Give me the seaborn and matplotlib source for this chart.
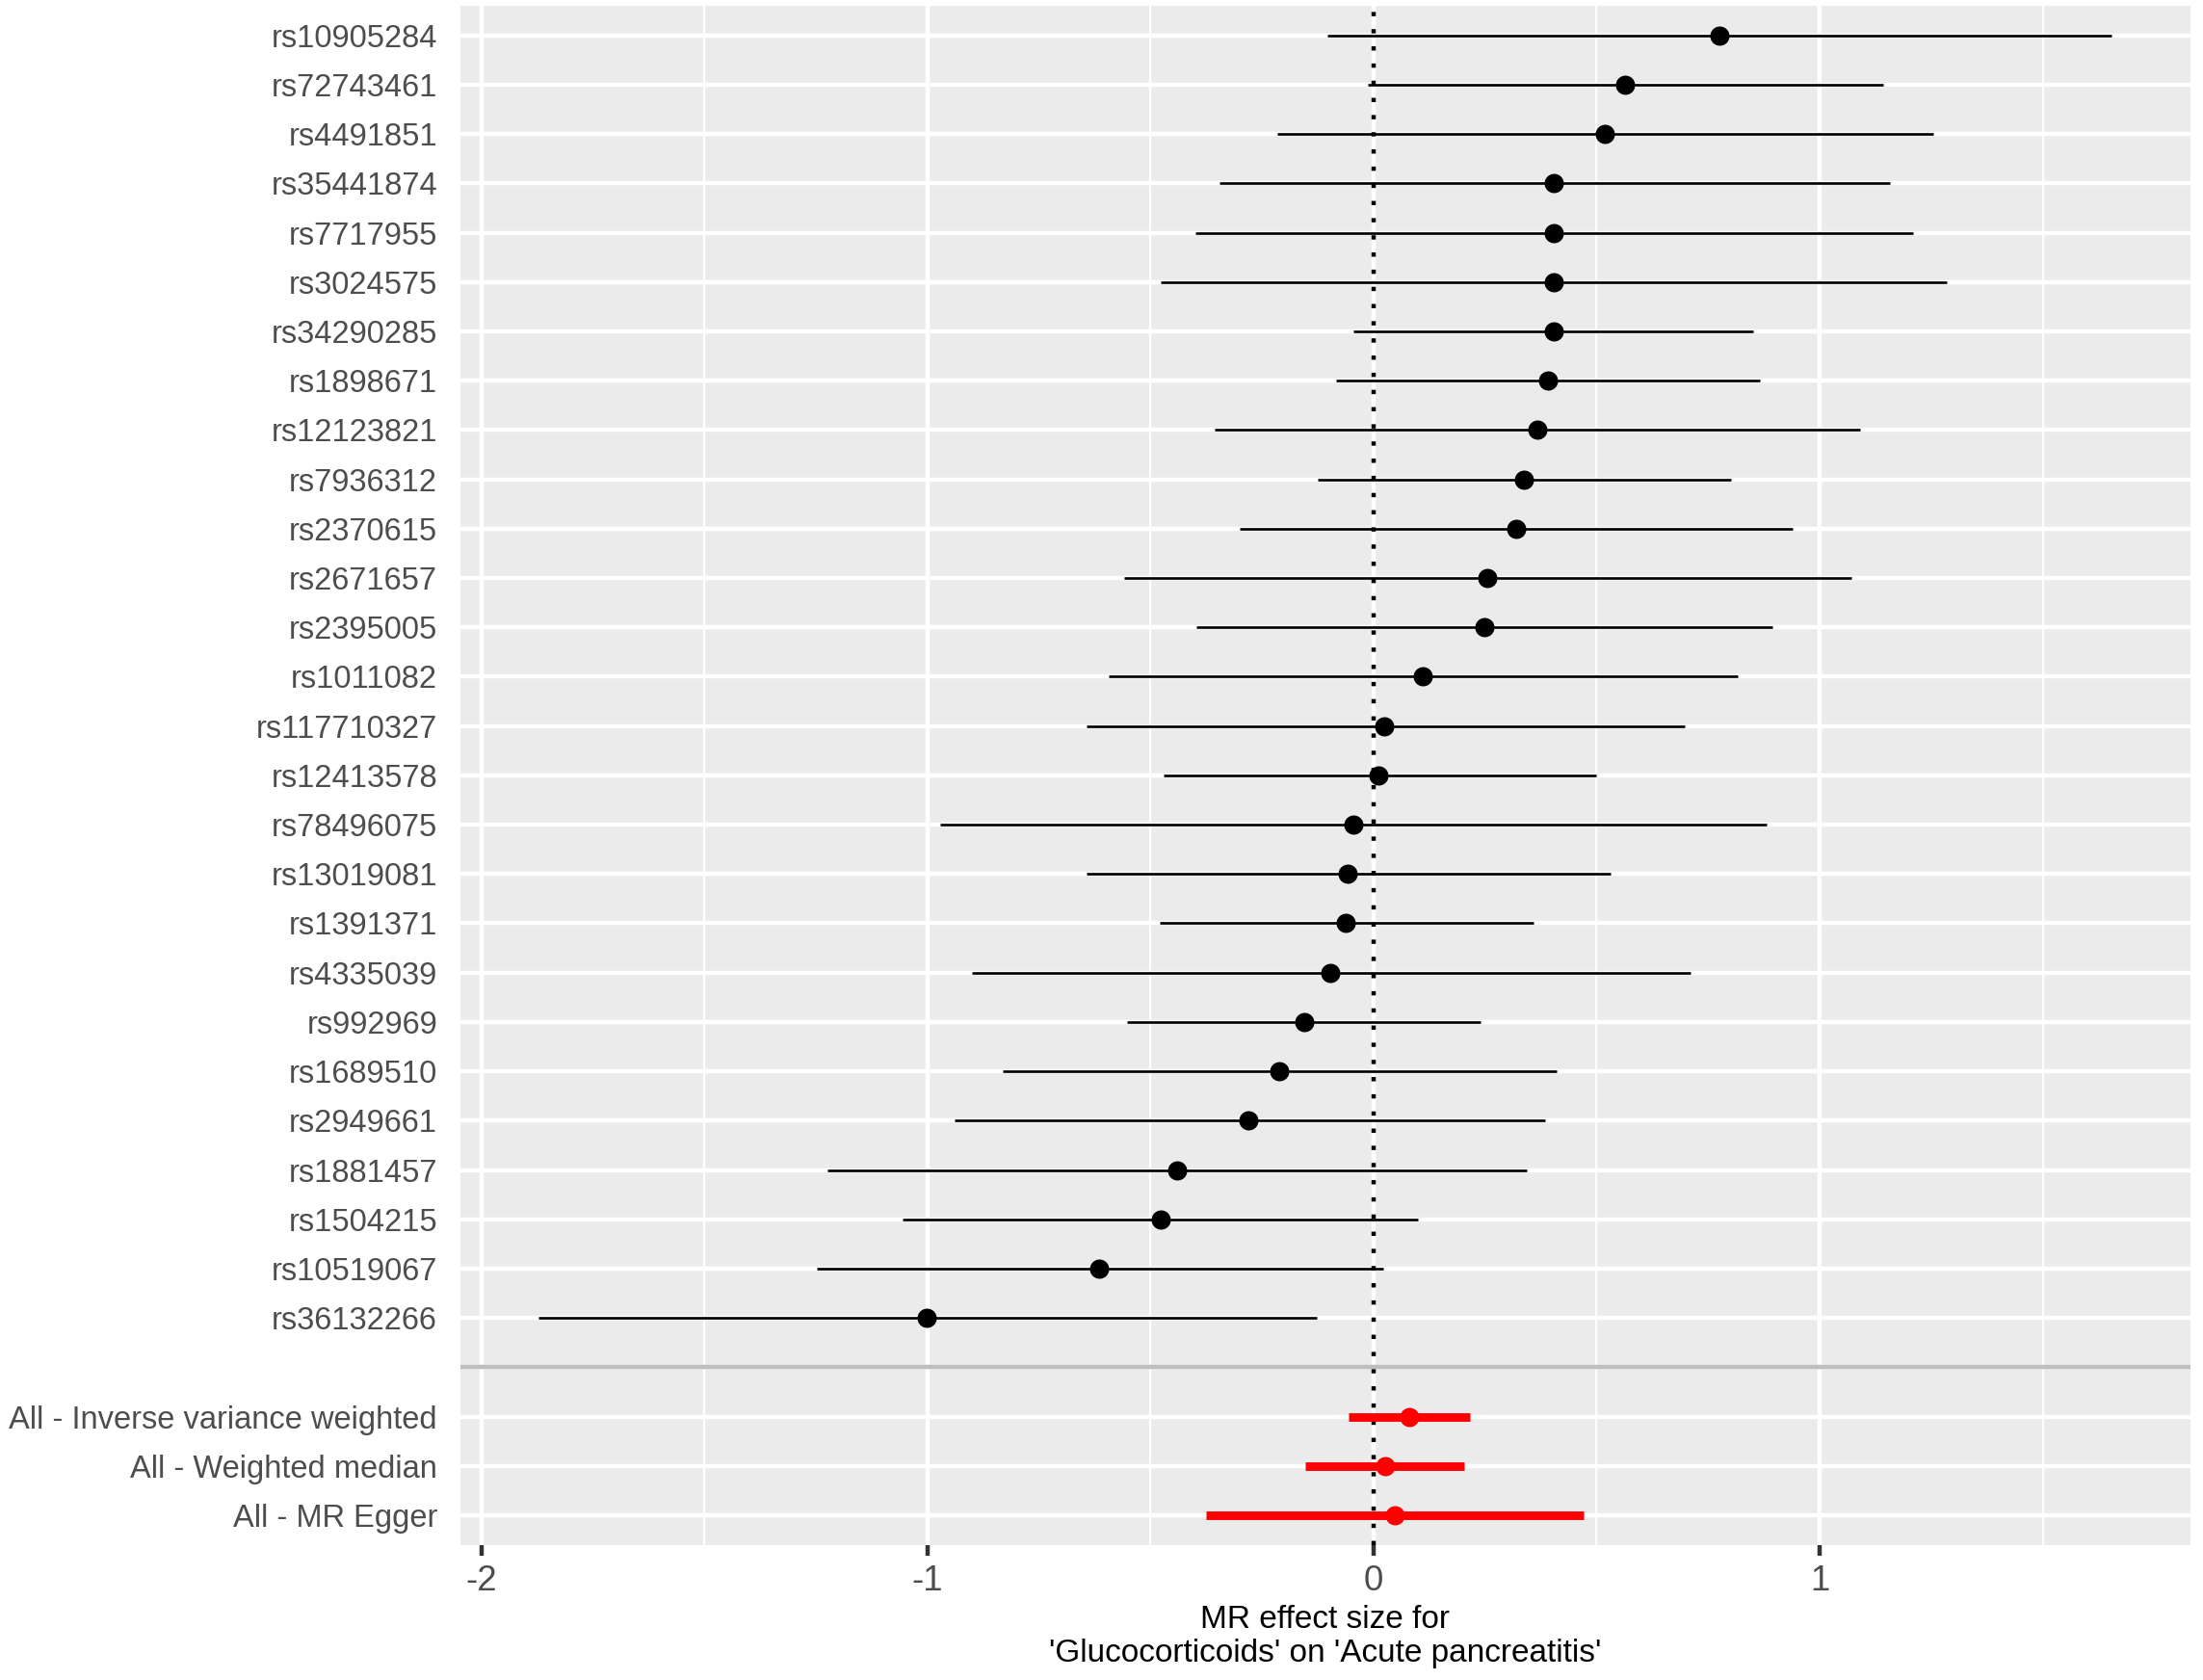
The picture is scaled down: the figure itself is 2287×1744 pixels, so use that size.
import matplotlib
matplotlib.use("Agg")
import matplotlib.pyplot as plt
import pandas as pd
import seaborn as sns

# ---------------------------
# DATA
# ---------------------------
snps = ["rs10905284", "rs72743461", "rs4491851", "rs35441874", "rs7717955",
        "rs3024575", "rs34290285", "rs1898671", "rs12123821", "rs7936312",
        "rs2370615", "rs2671657", "rs2395005", "rs1011082", "rs117710327",
        "rs12413578", "rs78496075", "rs13019081", "rs1391371", "rs4335039",
        "rs992969", "rs1689510", "rs2949661", "rs1881457", "rs1504215",
        "rs10519067", "rs36132266"]
snp_b = [0.776, 0.564, 0.519, 0.405, 0.405, 0.403, 0.403, 0.392, 0.368, 0.338,
         0.320, 0.255, 0.248, 0.110, 0.025, 0.012, -0.046, -0.058, -0.062, -0.096,
         -0.156, -0.212, -0.280, -0.440, -0.478, -0.615, -1.001]
snp_lo = [-0.103, -0.013, -0.216, -0.346, -0.400, -0.477, -0.044, -0.083, -0.356, -0.124,
          -0.299, -0.560, -0.397, -0.594, -0.644, -0.471, -0.972, -0.644, -0.480, -0.901,
          -0.552, -0.832, -0.940, -1.223, -1.055, -1.248, -1.871]
snp_up = [1.655, 1.142, 1.254, 1.158, 1.210, 1.286, 0.851, 0.867, 1.091, 0.802,
          0.939, 1.072, 0.894, 0.816, 0.698, 0.498, 0.882, 0.531, 0.359, 0.710,
          0.241, 0.411, 0.384, 0.343, 0.100, 0.021, -0.127]

methods = ["All - Inverse variance weighted", "All - Weighted median", "All - MR Egger"]
method_b = [0.080, 0.026, 0.048]
method_lo = [-0.055, -0.153, -0.376]
method_up = [0.217, 0.204, 0.472]

xlabel = "MR effect size for\n'Glucocorticoids' on 'Acute pancreatitis'"

# ---------------------------
# TABLE
# ---------------------------
df = pd.DataFrame({
    "SNP": snps + methods,
    "b": snp_b + method_b,
    "lo": snp_lo + method_lo,
    "up": snp_up + method_up,
    "tot": ["snp"] * len(snps) + ["all"] * len(methods),
})
order = snps + [""] + methods
pos = {name: i for i, name in enumerate(order)}
df["y"] = df["SNP"].map(pos)

# ---------------------------
# STYLE (ggplot2 theme_grey look)
# ---------------------------
sns.set_theme(style="darkgrid")
plt.rcParams["font.family"] = ["Liberation Sans", "DejaVu Sans"]
plt.rcParams["axes.unicode_minus"] = False

fig = plt.figure(figsize=(2287 / 300, 1744 / 300), dpi=300)
ax = fig.add_axes([0.2089, 0.0804, 0.7854, 0.9162])
ax.set_facecolor("#EBEBEB")

ax.axvline(0, color="black", lw=1.07, linestyle=(0, (1, 3)),
           dash_capstyle="butt", zorder=2)

colors = {"snp": "black", "all": "red"}
widths = {"snp": 0.64, "all": 2.13}
for tot, sub in df.groupby("tot"):
    ax.hlines(sub["y"], sub["lo"], sub["up"], colors=colors[tot],
              linewidths=widths[tot], capstyle="butt", zorder=3)

sns.stripplot(data=df, x="b", y="SNP", order=order, hue="tot",
              palette=colors, jitter=False, size=4.8, linewidth=0,
              legend=False, ax=ax, zorder=4)

ax.axhline(pos[""], color="#BEBEBE", lw=1.07, zorder=5)

# limits like ggplot's 5% expansion
lo_all, up_all = df["lo"].min(), df["up"].max()
pad = 0.05 * (up_all - lo_all)
ax.set_xlim(lo_all - pad, up_all + pad)
ax.set_ylim(len(order) - 1 + 0.6, -0.6)

ax.set_xticks([-2, -1, 0, 1])
ax.set_xticklabels(["-2", "-1", "0", "1"])
ax.set_xticks([-1.5, -0.5, 0.5, 1.5], minor=True)
ax.set_axisbelow(True)
ax.grid(which="major", color="white", lw=1.07)
ax.grid(which="minor", axis="x", color="white", lw=0.53)
ax.grid(which="minor", axis="y", visible=False)
for s in ax.spines.values():
    s.set_visible(False)

ax.tick_params(axis="x", which="major", length=2.75, width=1.07,
               color="#333333", labelsize=8.8, labelcolor="#4D4D4D", pad=2.2,
               bottom=True)
ax.tick_params(axis="x", which="minor", length=0)
ax.tick_params(axis="y", length=0, labelsize=7.85, labelcolor="#4D4D4D", pad=5.7)

ax.set_xlabel(xlabel, fontsize=8, color="black", labelpad=1.7, linespacing=1.14)
ax.set_ylabel("")

fig.savefig("out.png", dpi=300)
